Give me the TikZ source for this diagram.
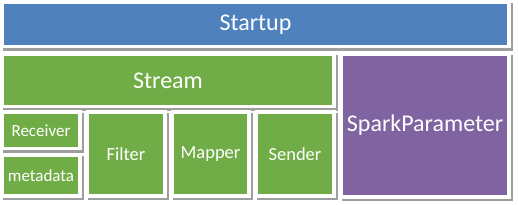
\documentclass[tikz,border=0pt]{standalone}
\usepackage{fontspec}
\setmainfont{Carlito}
\definecolor{cblue}{HTML}{4F81BD}
\definecolor{cgreen}{HTML}{70AD47}
\definecolor{cpurple}{HTML}{8064A2}
\tikzset{
  tile/.style={rectangle, inner sep=0pt, fill=#1, draw=white, line width=3.5pt,
    text=white,
    preaction={draw=black!38, fill=black!38, line width=3.5pt,
      transform canvas={shift={(2.2pt,-2.2pt)}}}},
  big/.style={font=\fontsize{24}{28}\selectfont},
  mid/.style={font=\fontsize{18.5}{22}\selectfont},
  small/.style={font=\fontsize{17}{20}\selectfont},
}
\begin{document}
\begin{tikzpicture}[x=1pt,y=-1pt]
\useasboundingbox (0,0) rectangle (518,205);
\node[tile=cblue, big, minimum width=506.5pt, minimum height=44.5pt] (startup) at (255.5,24.5) {Startup};
\node[tile=cgreen, big, minimum width=331.5pt, minimum height=52.5pt] (stream) at (168,80.5) {Stream};
\node[tile=cpurple, big, minimum width=167.5pt, minimum height=142.5pt] (spark) at (425,125.5) {SparkParameter};
\node[tile=cgreen, small, minimum width=77.5pt, minimum height=36.5pt] (receiver) at (41,130.5) {Receiver};
\node[tile=cgreen, small, minimum width=77.5pt, minimum height=40.5pt] (metadata) at (41,175.5) {metadata};
\node[tile=cgreen, mid, minimum width=77.5pt, minimum height=83.5pt] (filter) at (126,154) {Filter};
\node[tile=cgreen, mid, minimum width=76.5pt, minimum height=83.5pt] (mapper) at (210.5,154) {Mapper};
\node[tile=cgreen, mid, minimum width=77.5pt, minimum height=83.5pt] (sender) at (295,154) {Sender};
\end{tikzpicture}
\end{document}
